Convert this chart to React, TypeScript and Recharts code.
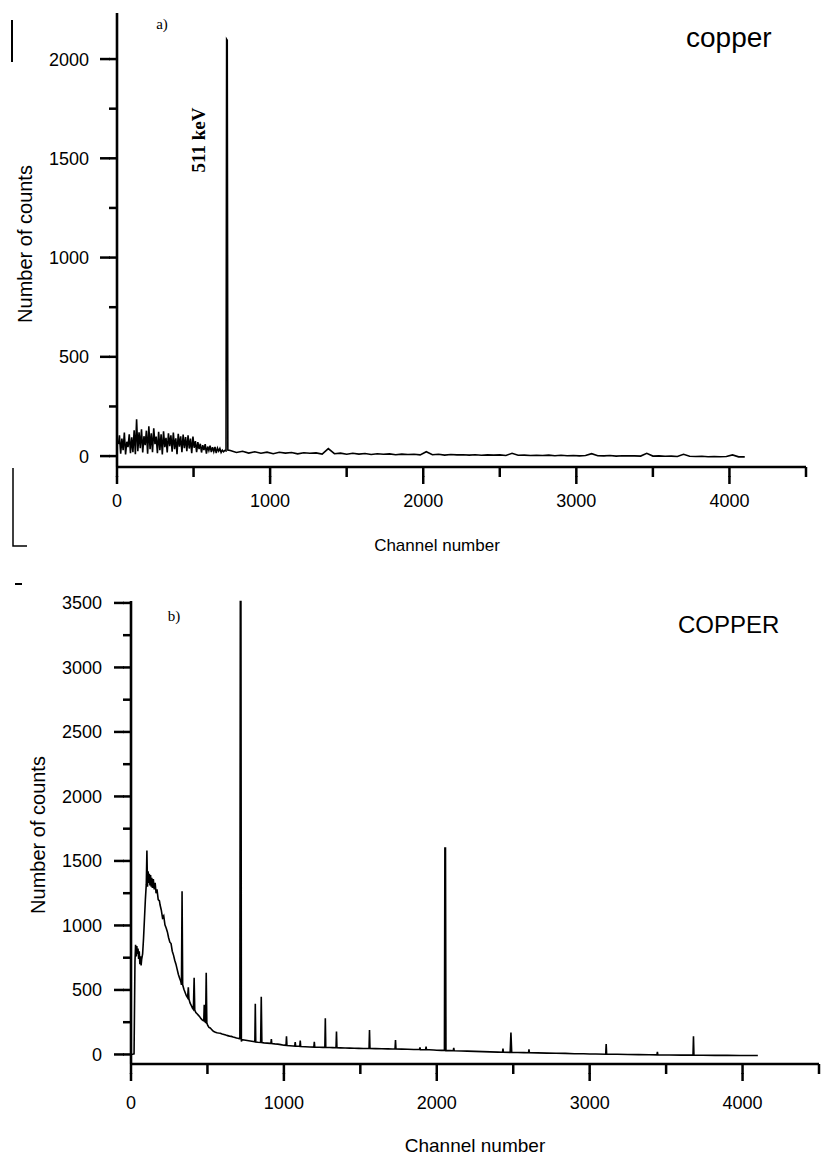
import React from "react";
import { LineChart, Line, XAxis, YAxis } from "recharts";

// ---------- panel a) : copper, 511 keV line only ----------
// low-channel noise, sampled every 8 channels from channel 16
const aNoiseFirstChannel = 16;
const aNoiseChannelStep = 8;
const aNoiseCounts = [
  105, 12, 88, 30, 118, 8, 72, 45, 110, 15, 95,
  20, 130, 10, 186, 25, 120, 40, 135, 18, 100, 55,
  128, 12, 150, 35, 115, 20, 140, 60, 98, 15, 122,
  30, 110, 8, 125, 45, 92, 18, 115, 50, 105, 22,
  118, 35, 90, 10, 112, 48, 100, 20, 108, 40, 96,
  25, 104, 38, 88, 15, 98, 42, 75, 20, 70, 35,
  62, 18, 55, 30, 60, 12, 48, 28, 52, 20, 45,
  22, 46, 15, 40, 25, 38, 18, 30, 22, 28, 26,
];
// the 511 keV annihilation peak [channel, counts]
const aPeak: [number, number][] = [
  [716, 2100],
  [720, 2095],
  [724, 30],
];
// tail sampled every 40 channels from channel 740
const aTailFirstChannel = 740;
const aTailChannelStep = 40;
const aTailCounts = [
  28, 18, 24, 15, 22, 14, 20, 12, 19, 15,
  18, 11, 17, 14, 16, 10, 38, 12, 15, 9,
  14, 10, 13, 8, 12, 9, 11, 7, 10, 8,
  9, 6, 22, 7, 9, 5, 8, 6, 7, 5,
  7, 4, 6, 5, 6, 3, 14, 4, 5, 3,
  4, 3, 5, 2, 4, 2, 3, 1, 3, 12,
  2, 1, 3, 0, 2, 1, 1, 0, 14, 0,
  1, -1, 0, -2, 9, -1, -2, -1, -3, -2,
  -3, -2, 6, -4, -4,
];

// ---------- panel b) : COPPER, full spectrum [channel, counts] ----------
const bRise: [number, number][] = [
  [0, 0], [10, 2], [20, 5], [26, 720], [30, 850], [34, 760], [38, 840], [42, 780],
  [46, 820], [50, 740], [54, 800], [58, 700], [62, 760], [66, 690], [70, 740],
  [76, 780], [82, 900], [88, 1050], [94, 1200], [100, 1320], [104, 1580], [108, 1300],
  [112, 1420], [116, 1330], [120, 1400], [124, 1310], [128, 1390], [132, 1300],
  [136, 1370], [140, 1290], [146, 1360], [152, 1280], [158, 1330], [164, 1250],
  [170, 1280], [178, 1200], [186, 1190],
];
const bCompton: [number, number][] = [
  [190, 1160], [198, 1120], [206, 1060], [214, 1075], [222, 1005], [230, 980],
  [238, 950], [246, 905], [254, 870], [262, 860], [270, 800], [278, 770], [286, 730],
  [294, 700], [302, 660], [310, 620], [318, 590], [326, 565], [330, 540], [334, 1265],
  [338, 540], [346, 505], [354, 480], [362, 455], [370, 440], [375, 520], [379, 430],
  [386, 400], [394, 380], [402, 360], [408, 350], [413, 594], [417, 345], [424, 325],
  [432, 315], [440, 305], [448, 295], [456, 280], [464, 270], [472, 262], [476, 260],
  [479, 385], [483, 255], [488, 250], [492, 633], [496, 245], [502, 225], [510, 210],
  [518, 205], [526, 195], [534, 185], [542, 178], [552, 172], [562, 168], [572, 166],
  [584, 165], [596, 158], [608, 155], [620, 150], [632, 146], [644, 142], [656, 140],
  [668, 135], [680, 132], [690, 128], [700, 125], [708, 122],
];
const bAnnihilation: [number, number][] = [
  [712, 122], [715, 3510], [719, 3510], [722, 100],
];
const bMid: [number, number][] = [
  [726, 115], [740, 112], [760, 108], [780, 104], [800, 100], [810, 98], [813, 392],
  [816, 97], [830, 95], [848, 93], [852, 447], [856, 92], [870, 90], [890, 88],
  [910, 86], [915, 86], [918, 120], [921, 85], [940, 82], [960, 80], [980, 76],
  [1000, 72], [1014, 71], [1017, 140], [1020, 70], [1040, 68], [1060, 66], [1071, 65],
  [1074, 95], [1077, 64], [1094, 64], [1104, 63], [1107, 108], [1110, 62], [1140, 60],
  [1170, 58], [1196, 57], [1199, 98], [1202, 57], [1230, 56], [1255, 55], [1268, 55],
  [1271, 280], [1274, 55], [1300, 54], [1320, 53], [1341, 52], [1344, 178], [1347, 52],
  [1370, 51], [1400, 50], [1430, 49], [1460, 48], [1490, 47], [1520, 46], [1557, 46],
  [1560, 190], [1563, 46], [1600, 45], [1640, 44], [1680, 43], [1710, 42], [1727, 42],
  [1730, 112], [1733, 42], [1770, 41], [1810, 40], [1850, 38], [1887, 38], [1890, 55],
  [1893, 37], [1927, 37], [1930, 60], [1933, 36], [1950, 36], [1980, 34], [2000, 33],
  [2030, 32],
];
const bTail: [number, number][] = [
  [2050, 32], [2053, 1600], [2057, 1600], [2060, 30], [2090, 30], [2108, 29], [2111, 50],
  [2114, 29], [2160, 27], [2200, 26], [2250, 24], [2300, 22], [2350, 20], [2400, 18],
  [2430, 17], [2433, 45], [2436, 17], [2480, 16], [2485, 170], [2490, 16], [2530, 15],
  [2570, 14], [2600, 13], [2603, 40], [2606, 13], [2660, 12], [2720, 10], [2780, 9],
  [2840, 8], [2900, 6], [2960, 5], [3000, 4], [3040, 3], [3105, 2], [3108, 80],
  [3111, 2], [3180, 1], [3250, 0], [3320, -1], [3390, -2], [3440, -3], [3443, 20],
  [3446, -3], [3520, -4], [3600, -5], [3650, -5], [3676, -5], [3679, 140], [3682, -5],
  [3740, -6], [3820, -7], [3900, -7], [3980, -8], [4050, -8], [4100, -8],
];

const channelTicks = [0, 500, 1000, 1500, 2000, 2500, 3000, 3500, 4000, 4500];
const aCountTicks = [0, 250, 500, 750, 1000, 1250, 1500, 1750, 2000];
const bCountTicks = [0, 250, 500, 750, 1000, 1250, 1500, 1750, 2000, 2250, 2500, 2750, 3000, 3250, 3500];

const panelAData = [
  { ch: 10, n: 60 },
  ...aNoiseCounts.map((n, i) => ({ ch: aNoiseFirstChannel + i * aNoiseChannelStep, n })),
  ...aPeak.map(([ch, n]) => ({ ch, n })),
  ...aTailCounts.map((n, i) => ({ ch: aTailFirstChannel + i * aTailChannelStep, n })),
];
const panelBData = [...bRise, ...bCompton, ...bAnnihilation, ...bMid, ...bTail].map(([ch, n]) => ({ ch, n }));

const SANS = "'Liberation Sans', Arial, Helvetica, sans-serif";
const SERIF = "'Liberation Serif', 'Times New Roman', serif";

// recharts draws the short (minor) tick; majors get an extension and a label.
// the custom tick's x/y already sit tickSize away from the axis line.
const X_MINOR = 10;
const Y_MINOR = 8;

function makeXTick(labelDy: number) {
  return (props: any) => {
    const { x, y, payload } = props;
    const v = payload.value as number;
    const major = v % 1000 === 0;
    return (
      <g>
        {major && <path d={`M${x},${y - 1}V${y + 7}`} stroke="#000" strokeWidth={2.5} fill="none" />}
        {major && (
          <text x={x} y={y - X_MINOR + labelDy} textAnchor="middle" fontSize={18} fontFamily={SANS} fill="#000">
            {v}
          </text>
        )}
      </g>
    );
  };
}

function makeYTick(labelGap: number) {
  return (props: any) => {
    const { x, y, payload } = props;
    const v = payload.value as number;
    const major = v % 500 === 0;
    return (
      <g>
        {major && <path d={`M${x - 9},${y}H${x + 1}`} stroke="#000" strokeWidth={2.5} fill="none" />}
        {major && (
          <text x={x + Y_MINOR - labelGap} y={y + 6.5} textAnchor="end" fontSize={18} fontFamily={SANS} fill="#000">
            {v}
          </text>
        )}
      </g>
    );
  };
}

const axisStyle = { stroke: "#000", strokeWidth: 2.6 };
const tickStyle = { stroke: "#000", strokeWidth: 2.5 };

export default function App() {
  return (
    <div style={{ position: "absolute", left: 0, top: 0, width: 825, height: 1157, background: "#fff", overflow: "hidden" }}>
      {/* a) */}
      <div style={{ position: "absolute", left: 0, top: 0 }}>
        <LineChart width={825} height={580} data={panelAData} margin={{ top: 13, right: 19, bottom: 0, left: 0 }}>
          <XAxis
            dataKey="ch"
            type="number"
            domain={[0, 4500]}
            ticks={channelTicks}
            interval={0}
            height={113}
            axisLine={axisStyle}
            tickLine={tickStyle}
            tickSize={X_MINOR}
            tickMargin={0}
            tick={makeXTick(40)}
          />
          <YAxis
            type="number"
            domain={[-55, 2232]}
            ticks={aCountTicks}
            interval={0}
            width={117}
            axisLine={axisStyle}
            tickLine={tickStyle}
            tickSize={Y_MINOR}
            tickMargin={0}
            tick={makeYTick(28)}
          />
          <Line type="linear" dataKey="n" stroke="#000" strokeWidth={1.6} dot={false} isAnimationActive={false} />
        </LineChart>
      </div>

      {/* b) */}
      <div style={{ position: "absolute", left: 0, top: 590 }}>
        <LineChart width={825} height={567} data={panelBData} margin={{ top: 11, right: 6, bottom: 0, left: 0 }}>
          <XAxis
            dataKey="ch"
            type="number"
            domain={[0, 4500]}
            ticks={channelTicks}
            interval={0}
            height={93}
            axisLine={axisStyle}
            tickLine={tickStyle}
            tickSize={X_MINOR}
            tickMargin={0}
            tick={makeXTick(45)}
          />
          <YAxis
            type="number"
            domain={[-74, 3515]}
            ticks={bCountTicks}
            interval={0}
            width={131}
            axisLine={axisStyle}
            tickLine={tickStyle}
            tickSize={Y_MINOR}
            tickMargin={0}
            tick={makeYTick(29)}
          />
          <Line type="linear" dataKey="n" stroke="#000" strokeWidth={1.6} dot={false} isAnimationActive={false} />
        </LineChart>
      </div>

      {/* annotations */}
      <svg width={825} height={1157} style={{ position: "absolute", left: 0, top: 0, pointerEvents: "none" }}>
        <text x={162} y={29} textAnchor="middle" fontSize={15} fontFamily={SERIF} fill="#000">a)</text>
        <text
          x={205}
          y={140}
          textAnchor="middle"
          fontSize={19}
          fontWeight="bold"
          fontFamily={SERIF}
          fill="#000"
          transform="rotate(-90 205 140)"
        >
          511 keV
        </text>
        <text x={686} y={47} fontSize={28} fontFamily={SANS} fill="#000">copper</text>
        <text x={437} y={551} textAnchor="middle" fontSize={17} fontFamily={SANS} fill="#000">Channel number</text>
        <text x={32} y={244} textAnchor="middle" fontSize={20} fontFamily={SANS} fill="#000" transform="rotate(-90 32 244)">
          Number of counts
        </text>

        <text x={174} y={621} textAnchor="middle" fontSize={15} fontFamily={SERIF} fill="#000">b)</text>
        <text x={678} y={633} fontSize={24} fontFamily={SANS} fill="#000">COPPER</text>
        <text x={475} y={1152} textAnchor="middle" fontSize={19} fontFamily={SANS} fill="#000">Channel number</text>
        <text x={45} y={835} textAnchor="middle" fontSize={20} fontFamily={SANS} fill="#000" transform="rotate(-90 45 835)">
          Number of counts
        </text>

        {/* scan marks at the page edge */}
        <path d="M12,20V62" stroke="#000" strokeWidth={2} />
        <path d="M13,468V546H27" stroke="#000" strokeWidth={1.5} fill="none" />
        <path d="M15,584H22" stroke="#000" strokeWidth={2} />
      </svg>
    </div>
  );
}
